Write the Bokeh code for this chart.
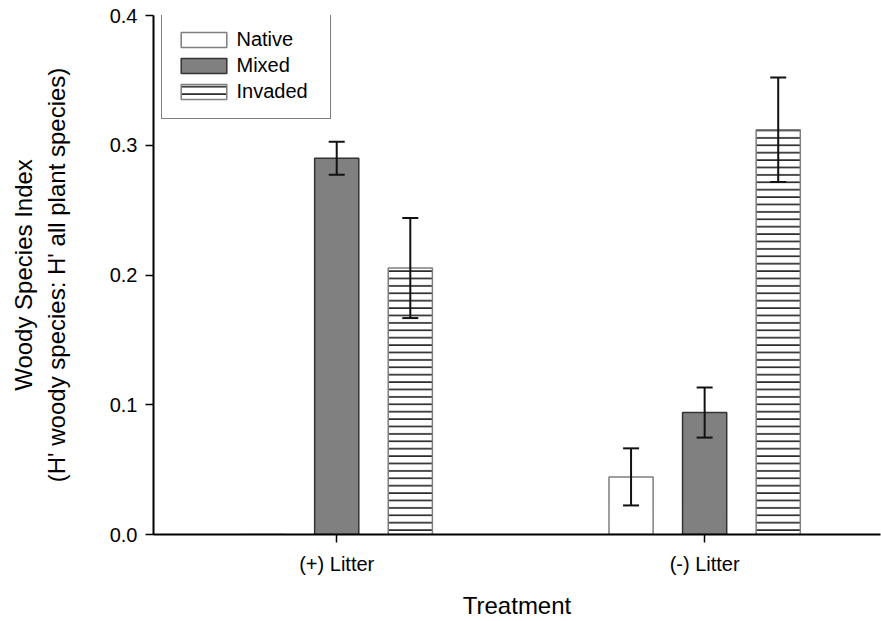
import numpy as np
from bokeh.plotting import figure
from bokeh.models import (ColumnDataSource, FixedTicker, PrintfTickFormatter,
                          Whisker, TeeHead, Legend, LegendItem, Range1d)
from bokeh.embed import file_html
from bokeh.resources import INLINE

# Woody species index by litter treatment and community type (mean and SE)
treatments = ["(+) Litter", "(-) Litter"]
groups = ["Native", "Mixed", "Invaded"]
native = [0.0, 0.0444]
native_se = [0.0, 0.0220]
mixed = [0.2900, 0.0940]
mixed_se = [0.0127, 0.0193]
invaded = [0.2054, 0.3119]
invaded_se = [0.0386, 0.0403]
y_ticks = [0.0, 0.1, 0.2, 0.3, 0.4]

FONT = "Liberation Sans"
positions = np.arange(1, len(treatments) + 1)
offsets = [-0.2, 0.0, 0.2]
bar_width = 0.12

p = figure(width=881, height=621, output_backend="svg", toolbar_location=None,
           x_range=Range1d(0.502, 2.478), y_range=Range1d(0.0, 0.4),
           min_border_left=153, min_border_right=1,
           min_border_top=15, min_border_bottom=87)
p.outline_line_color = None
p.xgrid.visible = False
p.ygrid.visible = False
p.background_fill_color = "white"
p.border_fill_color = "white"

styles = [
    dict(fill_color="white", line_color="#7f7f7f"),
    dict(fill_color="#808080", line_color="#333333"),
    dict(fill_color="white", line_color="#7f7f7f", hatch_pattern="horizontal_line",
         hatch_color="black", hatch_scale=7.4, hatch_weight=1.4),
]
series = [(native, native_se), (mixed, mixed_se), (invaded, invaded_se)]

legend_items = []
for name, (vals, ses), off, st in zip(groups, series, offsets, styles):
    xs = positions + off
    src = ColumnDataSource(dict(x=xs, top=vals))
    r = p.vbar(x="x", top="top", width=bar_width, source=src, line_width=1.5, **st)
    legend_items.append(LegendItem(label=name, renderers=[r]))

    keep = [i for i, s in enumerate(ses) if s > 0]
    esrc = ColumnDataSource(dict(
        x=[xs[i] for i in keep],
        lower=[vals[i] - ses[i] for i in keep],
        upper=[vals[i] + ses[i] for i in keep]))
    head = dict(size=16, line_width=2, line_color="#111111")
    w = Whisker(base="x", lower="lower", upper="upper", source=esrc,
                line_color="#111111", line_width=2, level="overlay",
                upper_head=TeeHead(**head), lower_head=TeeHead(**head))
    p.add_layout(w)

legend = Legend(items=legend_items, location=(7.5, 415.5),
                padding=13, spacing=0, margin=0,
                glyph_width=57, glyph_height=19, label_width=80, label_height=26,
                label_standoff=5, label_text_font=FONT,
                label_text_font_size="20px", label_text_color="black",
                border_line_color="black", border_line_width=1,
                background_fill_color="white", background_fill_alpha=1.0)
p.add_layout(legend)

# x axis: treatment categories
p.xaxis.ticker = FixedTicker(ticks=list(positions))
p.xaxis.major_label_overrides = {int(v): t for v, t in zip(positions, treatments)}
p.xaxis.axis_label = "Treatment"

# y axis
p.yaxis.ticker = FixedTicker(ticks=y_ticks)
p.yaxis.formatter = PrintfTickFormatter(format="%.1f")
p.yaxis.axis_label = "Woody Species Index\n(H' woody species: H' all plant species)"

for ax in (p.xaxis[0], p.yaxis[0]):
    ax.axis_line_color = "black"
    ax.axis_line_width = 2
    ax.major_tick_line_color = "black"
    ax.major_tick_line_width = 1.5
    ax.major_tick_out = 8
    ax.major_tick_in = 0
    ax.minor_tick_line_color = None
    ax.major_label_text_font = FONT
    ax.major_label_text_font_size = "20px"
    ax.major_label_text_color = "black"
    ax.axis_label_text_font = FONT
    ax.axis_label_text_font_size = "24px"
    ax.axis_label_text_font_style = "normal"
    ax.axis_label_text_color = "black"

p.xaxis.major_label_standoff = 10
p.xaxis.axis_label_standoff = 14
p.yaxis.major_label_standoff = 8
p.yaxis.axis_label_standoff = 37

open("out.html", "w").write(file_html(p, INLINE))
